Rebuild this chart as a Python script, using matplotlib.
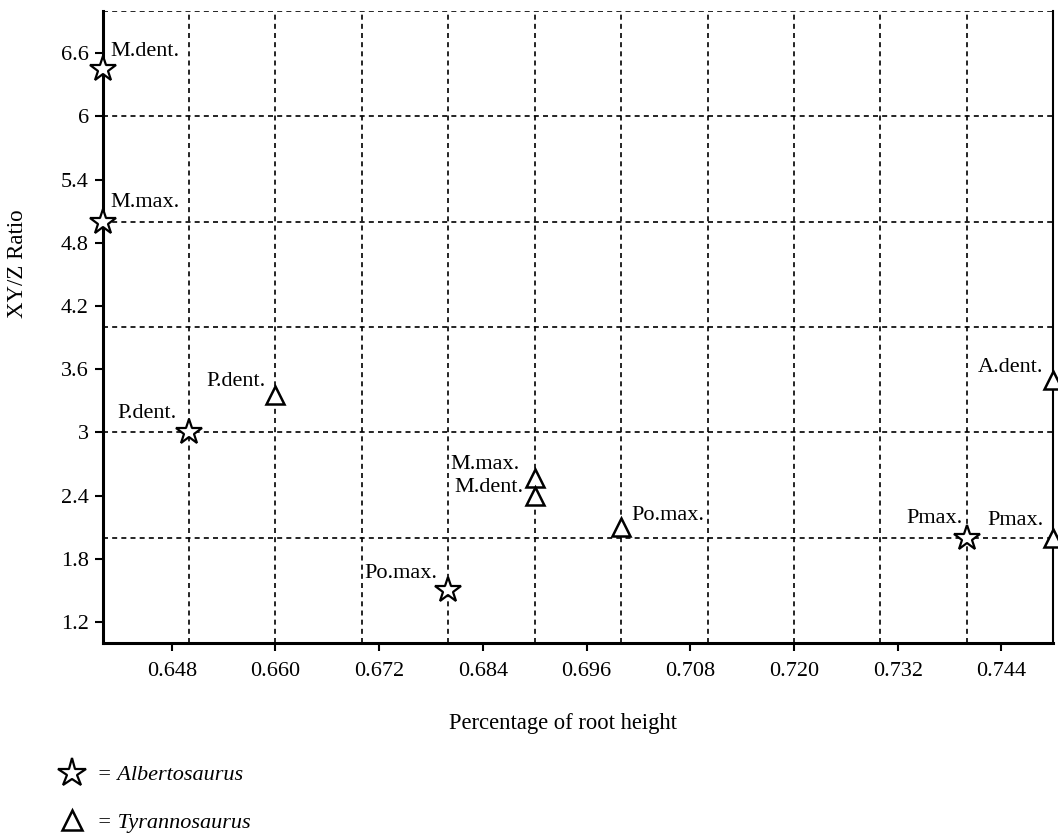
import numpy as np
import matplotlib
matplotlib.use("Agg")
import matplotlib.pyplot as plt
from matplotlib.ticker import FixedLocator, FuncFormatter, MultipleLocator

plt.rcParams['font.family'] = ['Liberation Serif', 'DejaVu Serif']
plt.rcParams['font.size'] = 16

# Albertosaurus (stars)
alb_labels = ['M.dent.', 'M.max.', 'P.dent.', 'Po.max.', 'Pmax.']
alb_x = [0.640, 0.640, 0.650, 0.680, 0.740]
alb_y = [6.45, 5.0, 3.0, 1.5, 2.0]

# Tyrannosaurus (triangles)
tyr_labels = ['P.dent.', 'M.max.', 'M.dent.', 'Po.max.', 'A.dent.', 'Pmax.']
tyr_x = [0.660, 0.690, 0.690, 0.700, 0.750, 0.750]
tyr_y = [3.35, 2.57, 2.4, 2.1, 3.5, 2.0]

x_ticks = [0.648, 0.660, 0.672, 0.684, 0.696, 0.708, 0.720, 0.732, 0.744]
y_ticks = [1.2, 1.8, 2.4, 3.0, 3.6, 4.2, 4.8, 5.4, 6.0, 6.6]

# label placement (ha, dx, dy in pixels)
alb_offsets = [('left', 8, 17), ('left', 8, 19), ('right', -12, 19),
               ('right', -11, 17), ('right', -4, 19)]
tyr_offsets = [('right', -10, 14), ('right', -15, 13), ('right', -11, 8),
               ('left', 10, 12), ('right', -10, 12), ('right', -10, 17)]

fig = plt.figure(figsize=(10.58, 8.34), dpi=100)
ax = fig.add_axes([0.097, 0.229, 0.8986, 0.7578])

ax.set_xlim(0.640, 0.750)
ax.set_ylim(1.0, 7.0)

ax.xaxis.set_major_locator(FixedLocator(x_ticks))
ax.yaxis.set_major_locator(FixedLocator(y_ticks))
ax.xaxis.set_minor_locator(MultipleLocator(0.01))
ax.yaxis.set_minor_locator(MultipleLocator(1.0))
ax.xaxis.remove_overlapping_locs = False
ax.yaxis.remove_overlapping_locs = False
ax.xaxis.set_major_formatter(FuncFormatter(lambda v, p: f"{v:.3f}"))
ax.yaxis.set_major_formatter(FuncFormatter(lambda v, p: f"{round(v, 1):g}"))
ax.tick_params(which='minor', length=0)
ax.tick_params(which='major', direction='out', length=6, width=1.5, colors='black')
ax.tick_params(axis='y', pad=4)
ax.tick_params(axis='x', pad=8)

ax.grid(which='minor', color='black', linestyle=(0, (3, 2.5)), linewidth=1.2)
ax.grid(which='major', visible=False)
ax.set_axisbelow(True)

ax.spines['top'].set_visible(False)
ax.spines['left'].set_linewidth(2.2)
ax.spines['bottom'].set_linewidth(2.2)
ax.spines['right'].set_linewidth(1.5)

alb = ax.plot(alb_x, alb_y, linestyle='none', marker='*', markersize=19,
              markerfacecolor='white', markeredgecolor='black', markeredgewidth=1.6,
              clip_on=False, zorder=5)[0]
tyr = ax.plot(tyr_x, tyr_y, linestyle='none', marker='^', markersize=13,
              markerfacecolor='white', markeredgecolor='black', markeredgewidth=1.8,
              clip_on=False, zorder=5)[0]

for lab, x, y, (ha, dx, dy) in zip(alb_labels, alb_x, alb_y, alb_offsets):
    ax.annotate(lab, (x, y), xytext=(dx, dy), textcoords='offset pixels',
                ha=ha, va='center', fontsize=16, zorder=6)
for lab, x, y, (ha, dx, dy) in zip(tyr_labels, tyr_x, tyr_y, tyr_offsets):
    ax.annotate(lab, (x, y), xytext=(dx, dy), textcoords='offset pixels',
                ha=ha, va='center', fontsize=16, zorder=6)

ax.set_xlabel('Percentage of root height', fontsize=16.3)
ax.xaxis.set_label_coords(0.484, -0.110)
ax.set_ylabel('XY/Z Ratio', fontsize=16.5)
ax.yaxis.set_label_coords(-0.0786, 0.60)

fig.legend([alb, tyr], ['= Albertosaurus', '= Tyrannosaurus'],
           loc='upper left', bbox_to_anchor=(0.044, 0.0935),
           frameon=False, prop={'style': 'italic', 'size': 16},
           labelspacing=1.2, handletextpad=0.38, handlelength=1.5,
           markerscale=1.1, borderaxespad=0)

fig.savefig('out.png', dpi=100)
